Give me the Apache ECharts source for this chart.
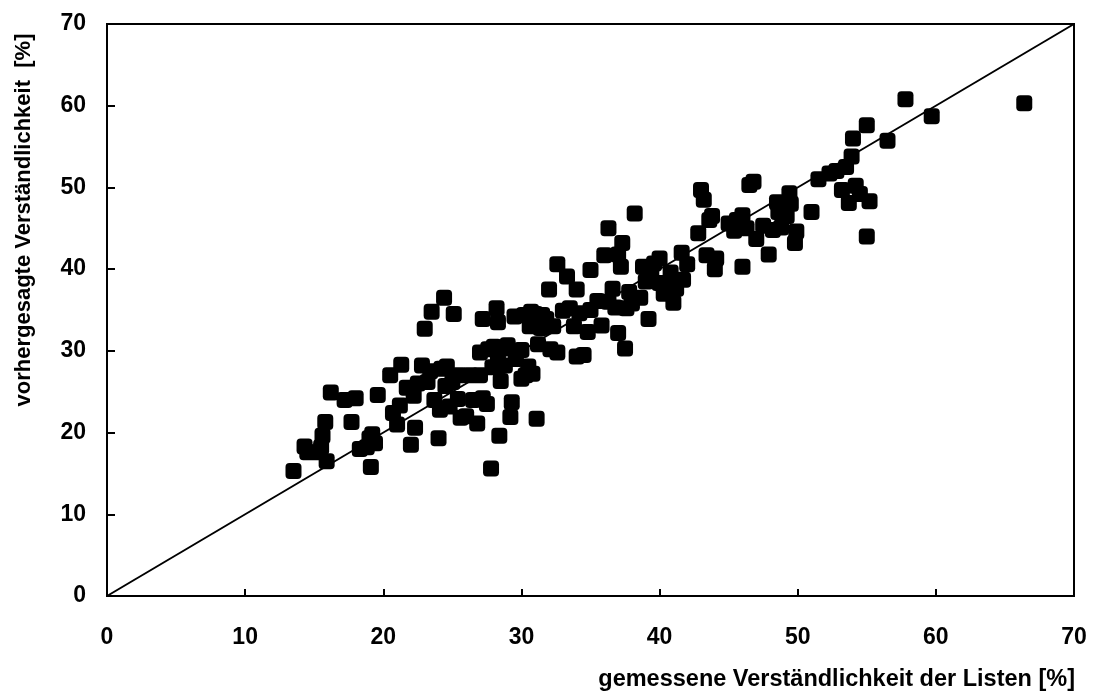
<!DOCTYPE html>
<html>
<head>
<meta charset="utf-8">
<script src="https://cdn.jsdelivr.net/npm/echarts@6/dist/echarts.min.js"></script>
<style>
  html, body { margin: 0; padding: 0; background: #fff; }
  #chart { width: 1094px; height: 692px; }
</style>
</head>
<body>
<div id="chart"></div>
<script>
// gemessene Verständlichkeit (x) vs. vorhergesagte Verständlichkeit (y), in %
const measured = [
  13.5, 14.3, 14.5, 15.2, 15.5, 15.6, 15.8, 15.9, 16.2, 17.2, 17.7, 18.0, 18.3, 18.8, 19.0, 19.2, 19.1, 19.4, 19.6, 20.5,
  20.7, 21.0, 21.2, 21.3, 21.7, 22.0, 22.2, 22.3, 22.5, 22.8, 23.0, 23.2, 23.5, 23.4, 23.7, 24.0, 24.1, 24.2, 24.4, 24.5,
  24.6, 24.8, 25.1, 25.0, 25.4, 25.5, 25.6, 26.0, 26.3, 26.5, 26.8, 27.0, 27.0, 27.2, 27.2, 27.5, 27.6, 27.9, 27.8, 28.0,
  28.2, 28.3, 28.3, 28.5, 28.4, 28.7, 28.8, 29.0, 29.2, 29.3, 29.5, 29.6, 30.0, 30.0, 30.2, 30.3, 30.5, 30.6, 30.7, 30.8,
  31.0, 31.1, 31.2, 31.4, 31.5, 31.8, 32.0, 32.1, 32.3, 32.6, 32.6, 33.0, 33.3, 33.5, 33.8, 34.0, 34.0, 34.2, 34.5, 34.8,
  35.0, 35.0, 35.5, 35.8, 36.0, 36.3, 36.3, 36.6, 36.8, 37.0, 37.0, 37.2, 37.3, 37.5, 37.6, 37.8, 38.0, 38.2, 38.6, 38.8,
  39.0, 39.2, 39.4, 39.6, 40.0, 40.0, 40.3, 40.6, 40.8, 41.0, 41.2, 41.6, 41.7, 42.0, 42.8, 43.0, 43.2, 43.4, 43.6, 43.8,
  44.0, 44.1, 45.0, 45.4, 45.6, 46.0, 46.0, 46.3, 46.5, 46.8, 47.0, 47.5, 47.9, 48.2, 48.5, 48.6, 48.8, 49.2, 49.4, 49.5,
  49.8, 49.9, 51.0, 51.5, 52.3, 52.8, 53.2, 53.5, 53.7, 53.9, 54.0, 54.2, 54.5, 55.0, 55.0, 55.2, 56.5, 57.8, 59.7, 66.4
];
const predicted = [
  15.3, 18.3, 17.6, 17.6, 18.2, 19.6, 21.3, 16.5, 24.9, 24.0, 21.3, 24.2, 18.0, 18.2, 19.3, 19.8, 15.8, 18.7, 24.6, 27.0,
  22.4, 21.0, 23.3, 28.3, 25.5, 18.5, 24.5, 20.6, 26.0, 28.2, 32.7, 26.2, 34.8, 27.5, 24.0, 19.3, 22.8, 27.8, 36.5, 25.7,
  28.1, 23.2, 34.5, 26.2, 24.1, 27.0, 21.8, 22.0, 27.0, 24.0, 21.1, 27.0, 29.8, 33.9, 24.2, 23.5, 30.2, 28.0, 15.6, 30.5,
  35.2, 33.5, 29.0, 26.3, 19.6, 30.3, 28.2, 30.7, 21.9, 23.7, 34.2, 29.0, 30.1, 26.6, 34.4, 27.0, 28.1, 33.0, 34.8, 27.2,
  34.5, 21.7, 30.8, 32.8, 34.4, 33.9, 37.5, 30.2, 33.0, 29.8, 40.6, 34.9, 39.1, 35.2, 33.0, 37.5, 29.3, 34.6, 29.5, 32.3,
  39.9, 35.0, 36.1, 33.1, 41.7, 45.0, 36.0, 37.6, 35.3, 41.8, 32.2, 40.3, 43.2, 30.3, 35.2, 37.2, 35.8, 46.8, 36.5, 40.3,
  38.5, 33.9, 39.3, 40.7, 41.3, 38.3, 37.0, 38.2, 39.6, 35.9, 37.6, 42.0, 38.7, 40.6, 44.4, 49.7, 48.5, 41.7, 46.0, 46.5,
  40.0, 41.3, 45.6, 44.7, 46.0, 46.6, 40.3, 45.0, 50.3, 50.7, 43.7, 45.3, 41.8, 44.8, 48.2, 47.0, 45.1, 46.5, 49.3, 48.0,
  43.2, 44.6, 47.0, 51.0, 51.7, 52.0, 49.7, 52.5, 48.1, 53.8, 56.0, 50.2, 49.2, 57.6, 44.0, 48.3, 55.7, 60.8, 58.7, 60.3
];
const diagonal = [[0, 0], [70, 70]];
const xTitle = 'gemessene Verständlichkeit der Listen [%]';
const yTitle = 'vorhergesagte Verständlichkeit  [%]';

const points = measured.map((x, i) => [x, predicted[i]]);
const font = '"Liberation Sans", Arial, sans-serif';

const chart = echarts.init(document.getElementById('chart'));
chart.setOption({
  animation: false,
  backgroundColor: '#fff',
  grid: {
    left: 107, right: 20, top: 24, bottom: 96,
    show: true, borderColor: '#000', borderWidth: 2, backgroundColor: 'transparent'
  },
  xAxis: {
    type: 'value', min: 0, max: 70, interval: 10,
    axisLine: { show: true, lineStyle: { color: '#000', width: 2 } },
    axisTick: { show: true, inside: true, length: 7, lineStyle: { color: '#000', width: 2 } },
    splitLine: { show: false },
    axisLabel: { color: '#000', fontSize: 23, fontWeight: 'bold', fontFamily: font, margin: 30 }
  },
  yAxis: {
    type: 'value', min: 0, max: 70, interval: 10,
    axisLine: { show: true, lineStyle: { color: '#000', width: 2 } },
    axisTick: { show: true, inside: true, length: 8, lineStyle: { color: '#000', width: 2 } },
    splitLine: { show: false },
    axisLabel: { color: '#000', fontSize: 23, fontWeight: 'bold', fontFamily: font, margin: 21 }
  },
  graphic: [
    {
      type: 'text', right: 19, top: 668,
      style: { text: xTitle, fill: '#000', font: 'bold 23.5px ' + font }
    },
    {
      type: 'text', x: 24, y: 220, rotation: Math.PI / 2,
      style: { text: yTitle, fill: '#000', font: 'bold 22px ' + font, align: 'center', verticalAlign: 'middle' }
    }
  ],
  series: [
    {
      type: 'line', data: diagonal, symbol: 'none', silent: true,
      lineStyle: { color: '#000', width: 2 }, z: 1
    },
    {
      type: 'scatter', data: points, symbol: 'roundRect', symbolSize: 16,
      itemStyle: { color: '#000', opacity: 1 }, z: 2
    }
  ]
});
</script>
</body>
</html>
